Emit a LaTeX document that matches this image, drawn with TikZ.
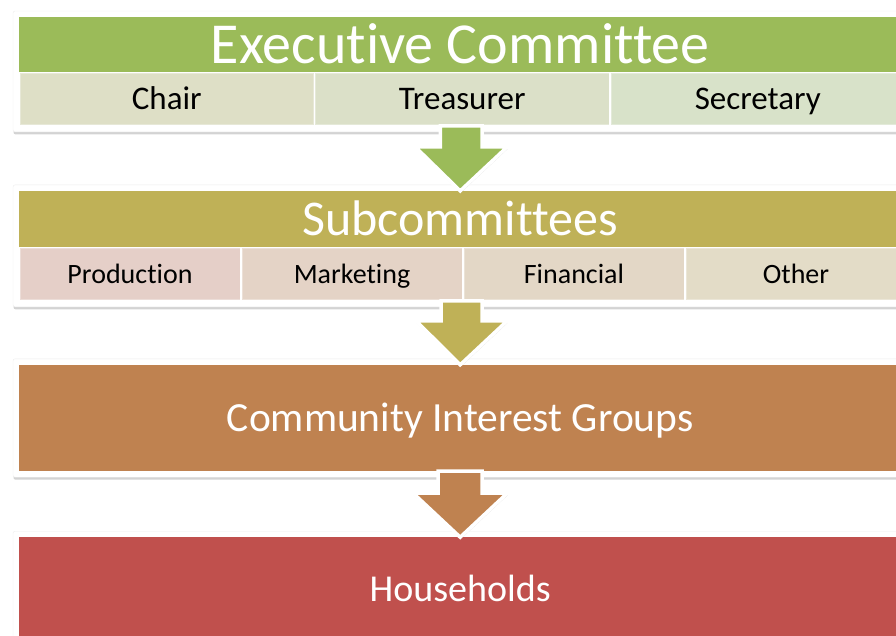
\documentclass[tikz,border=0pt]{standalone}
\usepackage{fontspec}
\setmainfont{Carlito}[Ligatures=CommonOff]
\usetikzlibrary{positioning, fit, backgrounds, shadows}

\definecolor{verde}{HTML}{9BBB59}
\definecolor{oliva}{HTML}{BFB157}
\definecolor{marrom}{HTML}{BF8250}
\definecolor{vermelho}{HTML}{C0504D}
\definecolor{cchair}{HTML}{DEDFC6}
\definecolor{ctreas}{HTML}{DBE0C8}
\definecolor{csecr}{HTML}{D8E2C9}
\definecolor{cprod}{HTML}{E5CFC8}
\definecolor{cmkt}{HTML}{E4D3C6}
\definecolor{cfin}{HTML}{E3D7C6}
\definecolor{cother}{HTML}{E3DCC7}

\begin{document}
\begin{tikzpicture}[x=1pt, y=-1pt,
        faixa/.style={rectangle, minimum width=882pt, inner sep=0pt, text=white, text depth=0pt, anchor=north west},
        celula/.style={rectangle, draw=white, draw opacity=0.3, line width=1.5pt, inner sep=0pt, text=black, text depth=0pt},
        moldura/.style={rectangle, fill=white, draw=black!7, rounded corners=2pt, inner sep=6pt,
            drop shadow={shadow xshift=0.5pt, shadow yshift=-2.5pt, opacity=0.35}},
        seta/.style={draw=white, line width=3.5pt, line join=miter,
            drop shadow={shadow xshift=0.5pt, shadow yshift=-2pt, opacity=0.3}},
        node distance=1cm]

        \useasboundingbox (0,0) rectangle (896,636);

        % Comitê executivo
        \node (exec) [faixa, fill=verde, minimum height=55pt, text height=37pt, font=\fontsize{58}{60}\selectfont] at (19,17) {Executive Committee};
        \node (chair) [celula, fill=cchair, minimum width=294pt, minimum height=52pt, text height=21pt, font=\fontsize{33}{35}\selectfont, below right=0pt and 0pt of exec.south west] {Chair};
        \node (treas) [celula, fill=ctreas, minimum width=294pt, minimum height=52pt, text height=21pt, font=\fontsize{33}{35}\selectfont, right=0pt of chair] {Treasurer};
        \node (secr) [celula, fill=csecr, minimum width=294pt, minimum height=52pt, text height=21pt, font=\fontsize{33}{35}\selectfont, right=0pt of treas] {Secretary};

        % Subcomitês
        \node (sub) [faixa, fill=oliva, minimum height=56pt, text height=32pt, font=\fontsize{50}{52}\selectfont, below right=65pt and 0pt of chair.south west] {Subcommittees};
        \node (prod) [celula, fill=cprod, minimum width=220.5pt, minimum height=52pt, text height=18pt, font=\fontsize{28}{30}\selectfont, below right=0pt and 0pt of sub.south west] {Production};
        \node (mkt) [celula, fill=cmkt, minimum width=220.5pt, minimum height=52pt, text height=18pt, font=\fontsize{28}{30}\selectfont, right=0pt of prod] {Marketing};
        \node (fin) [celula, fill=cfin, minimum width=220.5pt, minimum height=52pt, text height=18pt, font=\fontsize{28}{30}\selectfont, right=0pt of mkt] {Financial};
        \node (other) [celula, fill=cother, minimum width=220.5pt, minimum height=52pt, text height=18pt, font=\fontsize{28}{30}\selectfont, right=0pt of fin] {Other};

        % Grupos e domicílios
        \node (cig) [faixa, fill=marrom, minimum height=106pt, text height=27pt, font=\fontsize{41.5}{44}\selectfont, below right=64pt and 0pt of prod.south west] {Community Interest Groups};
        \node (house) [faixa, fill=vermelho, minimum height=104pt, text height=24.5pt, font=\fontsize{38}{40}\selectfont, below right=66pt and 0pt of cig.south west] {Households};

        % Molduras brancas por trás
        \begin{scope}[on background layer]
            \node [moldura, fit=(exec)(secr)] {};
            \node [moldura, fit=(sub)(other)] {};
            \node [moldura, fit=(cig)] {};
            \node [moldura, fit=(house)] {};
        \end{scope}

        % Setas entre os níveis
        \draw[seta, fill=verde] (treas.south) ++(-22,0) -- ++(0,21) -- ++(-25,0) -- (sub.north) -- ++(47,-44) -- ++(-25,0) -- ++(0,-21) -- cycle;
        \draw[seta, fill=oliva] (mkt.south east) ++(-22,0) -- ++(0,20) -- ++(-25,0) -- (cig.north) -- ++(47,-44) -- ++(-25,0) -- ++(0,-20) -- cycle;
        \draw[seta, fill=marrom] (cig.south) ++(-22,0) -- ++(0,22) -- ++(-25,0) -- (house.north) -- ++(47,-44) -- ++(-25,0) -- ++(0,-22) -- cycle;

    \end{tikzpicture}
\end{document}
